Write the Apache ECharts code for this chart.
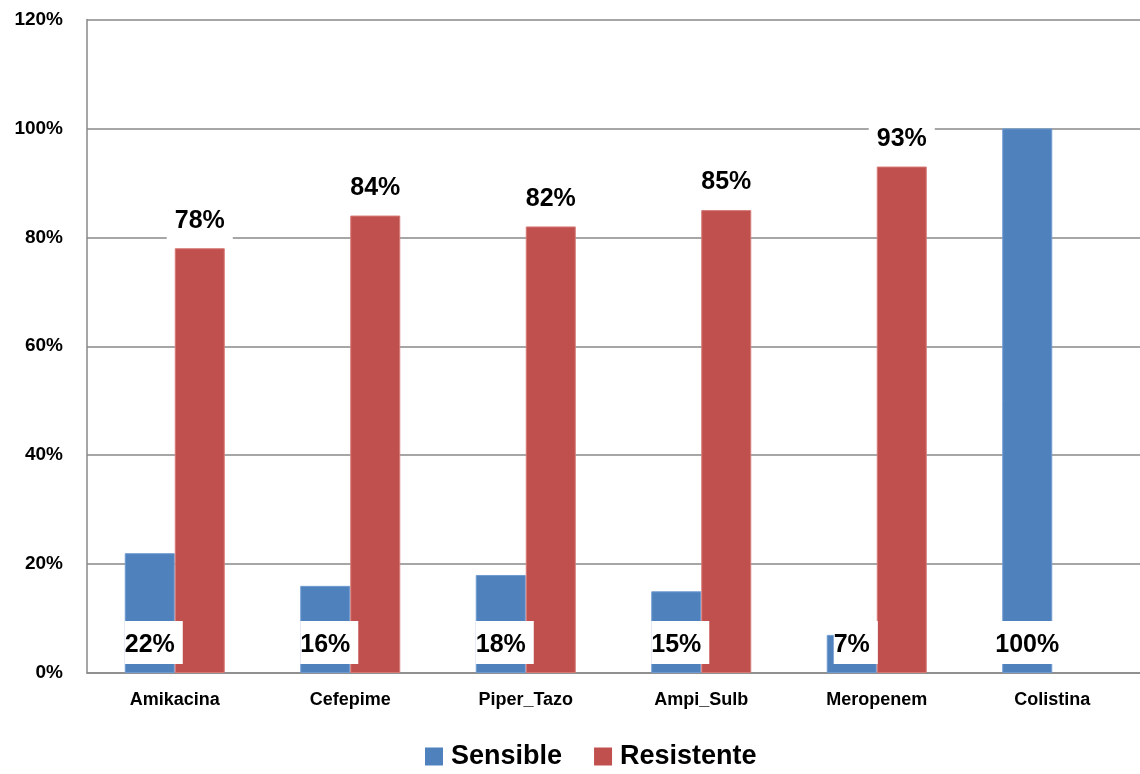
<!DOCTYPE html>
<html>
<head>
<meta charset="utf-8">
<script src="https://cdn.jsdelivr.net/npm/echarts@6/dist/echarts.min.js"></script>
<style>html,body{margin:0;padding:0;background:#fff;}#c{width:1140px;height:774px;}</style>
</head>
<body>
<div id="c"></div>
<script>
const categories = ['Amikacina', 'Cefepime', 'Piper_Tazo', 'Ampi_Sulb', 'Meropenem', 'Colistina'];
const sensible = [22, 16, 18, 15, 7, 100];
const resistente = [78, 84, 82, 85, 93, null];
const seriesNames = ['Sensible', 'Resistente'];
const yTicks = [0, 20, 40, 60, 80, 100, 120];

const FONT = '"Liberation Sans", Arial, sans-serif';
const chart = echarts.init(document.getElementById('c'));
chart.setOption({
  animation: false,
  backgroundColor: '#fff',
  textStyle: { fontFamily: FONT },
  grid: { left: 87, right: 0, top: 19.5, bottom: 101, containLabel: false },
  legend: {
    data: seriesNames,
    top: 738,
    left: 420,
    itemWidth: 18,
    itemHeight: 18,
    itemGap: 32,
    icon: 'rect',
    itemStyle: { borderWidth: 0 },
    textStyle: { fontSize: 27, fontWeight: 'bold', color: '#000', fontFamily: FONT, padding: [0, 0, 0, 3] }
  },
  xAxis: {
    type: 'category',
    data: categories,
    axisLine: { lineStyle: { color: '#898989', width: 1.5 } },
    axisTick: { show: false },
    axisLabel: { fontSize: 18, fontWeight: 'bold', color: '#000', margin: 18, fontFamily: FONT }
  },
  yAxis: {
    type: 'value',
    min: yTicks[0],
    max: yTicks[yTicks.length - 1],
    interval: 20,
    axisLine: { show: true, lineStyle: { color: '#898989', width: 1.5 } },
    axisTick: { show: false },
    axisLabel: { fontSize: 19, fontWeight: 'bold', color: '#000', margin: 24, formatter: '{value}%', fontFamily: FONT },
    splitLine: { lineStyle: { color: '#898989', width: 1.5 } }
  },
  series: [
    {
      name: seriesNames[0],
      type: 'bar',
      data: sensible,
      barWidth: 50,
      barGap: '0%',
      itemStyle: { color: '#4F81BD', borderColor: '#6f9bd0', borderWidth: 1 },
      label: {
        show: true,
        position: 'insideBottom',
        distance: 9,
        offset: [4, 0],
        formatter: '{c}%',
        fontSize: 25,
        fontWeight: 'bold',
        color: '#000',
        backgroundColor: '#fff',
        padding: [11, 8, 5, 0],
        lineHeight: 27,
        fontFamily: FONT
      }
    },
    {
      name: seriesNames[1],
      type: 'bar',
      data: resistente,
      barWidth: 50,
      itemStyle: { color: '#C0504D', borderColor: '#d67a77', borderWidth: 1 },
      label: {
        show: true,
        position: 'top',
        distance: 6,
        formatter: '{c}%',
        fontSize: 25,
        fontWeight: 'bold',
        color: '#000',
        backgroundColor: '#fff',
        padding: [4, 8, 8, 8],
        lineHeight: 27,
        fontFamily: FONT
      }
    }
  ]
});
</script>
</body>
</html>
